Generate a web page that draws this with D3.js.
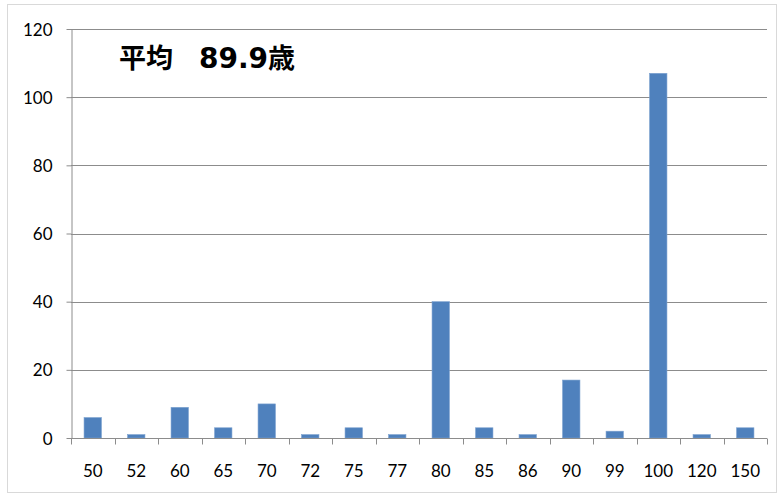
<!DOCTYPE html>
<html>
<head>
<meta charset="utf-8">
<script src="https://cdn.jsdelivr.net/npm/d3@7"></script>
<style>
  body { margin: 0; background: #fff; }
  svg { display: block; }
</style>
</head>
<body>
<div id="chart"></div>
<script>
// Data
const ages = ['50', '52', '60', '65', '70', '72', '75', '77', '80', '85', '86', '90', '99', '100', '120', '150'];
const counts = [6, 1, 9, 3, 10, 1, 3, 1, 40, 3, 1, 17, 2, 107, 1, 3];
const yTicks = [0, 20, 40, 60, 80, 100, 120];
const titleParts = ['平均', '89.9', '歳'];

const width = 780;
const height = 495;
const margin = { top: 29, right: 13, bottom: 57, left: 71 };

const svg = d3.select('#chart')
    .append('svg')
    .attr('width', width)
    .attr('height', height);

// Outer chart border
svg.append('rect')
    .attr('x', 7.5)
    .attr('y', 4.5)
    .attr('width', 769)
    .attr('height', 488)
    .attr('fill', 'none')
    .attr('stroke', '#d9d9d9');

const x = d3.scaleBand()
    .domain(ages)
    .range([margin.left, width - margin.right])
    .paddingInner(0.6)
    .paddingOuter(0.3);

const y = d3.scaleLinear()
    .domain([0, 120])
    .range([height - margin.bottom, margin.top]);

// Gridlines
svg.append('g')
    .selectAll('line')
    .data(yTicks.filter(d => d > 0))
    .join('line')
    .attr('x1', margin.left)
    .attr('x2', width - margin.right)
    .attr('y1', d => Math.round(y(d)) + 0.5)
    .attr('y2', d => Math.round(y(d)) + 0.5)
    .attr('stroke', '#8c8c8c')
    .attr('stroke-width', 1);

// Bars
svg.append('g')
    .selectAll('rect')
    .data(counts)
    .join('rect')
    .attr('x', (d, i) => x(ages[i]))
    .attr('width', x.bandwidth())
    .attr('y', d => y(d))
    .attr('height', d => y(0) - y(d))
    .attr('fill', '#4f81bd')
    .attr('stroke', '#7da2d0')
    .attr('stroke-width', 0.6);

// Y axis
const yAxis = svg.append('g')
    .attr('transform', `translate(${margin.left + 0.5},0)`)
    .call(d3.axisLeft(y).tickValues(yTicks).tickSize(5).tickPadding(14).tickSizeOuter(0));

// X axis with tick marks between categories
const bounds = d3.range(ages.length + 1).map(i => margin.left + i * (width - margin.left - margin.right) / ages.length);
const xAxis = svg.append('g')
    .attr('transform', `translate(0,${Math.round(y(0)) + 0.5})`);
xAxis.append('line')
    .attr('x1', margin.left)
    .attr('x2', width - margin.right)
    .attr('stroke', '#8c8c8c');
xAxis.selectAll('.tick-mark')
    .data(bounds)
    .join('line')
    .attr('class', 'tick-mark')
    .attr('x1', d => Math.round(d) + 0.5)
    .attr('x2', d => Math.round(d) + 0.5)
    .attr('y1', 0)
    .attr('y2', 6)
    .attr('stroke', '#8c8c8c');
xAxis.selectAll('.tick-label')
    .data(ages)
    .join('text')
    .attr('class', 'tick-label')
    .attr('x', d => x(d) + x.bandwidth() / 2)
    .attr('y', 38)
    .attr('text-anchor', 'middle')
    .text(d => d);

svg.selectAll('.domain').attr('stroke', '#8c8c8c');
svg.selectAll('.tick line').attr('stroke', '#8c8c8c');
svg.selectAll('text')
    .attr('font-family', 'Lato, "Open Sans", sans-serif')
    .attr('font-size', 17)
    .attr('fill', '#000');
yAxis.selectAll('text').attr('dy', '0.36em');

// Title annotation inside the plot
const titleText = svg.append('text')
    .attr('y', 68)
    .attr('font-weight', 'bold')
    .attr('font-size', 27)
    .attr('fill', '#000');
titleText.append('tspan')
    .attr('x', 119)
    .attr('font-family', '"Noto Sans CJK JP", sans-serif')
    .text(titleParts[0]);
titleText.append('tspan')
    .attr('x', 199)
    .attr('font-family', '"DejaVu Sans", sans-serif')
    .attr('font-size', 28)
    .text(titleParts[1]);
titleText.append('tspan')
    .attr('font-family', '"Noto Sans CJK JP", sans-serif')
    .text(titleParts[2]);
</script>
</body>
</html>
